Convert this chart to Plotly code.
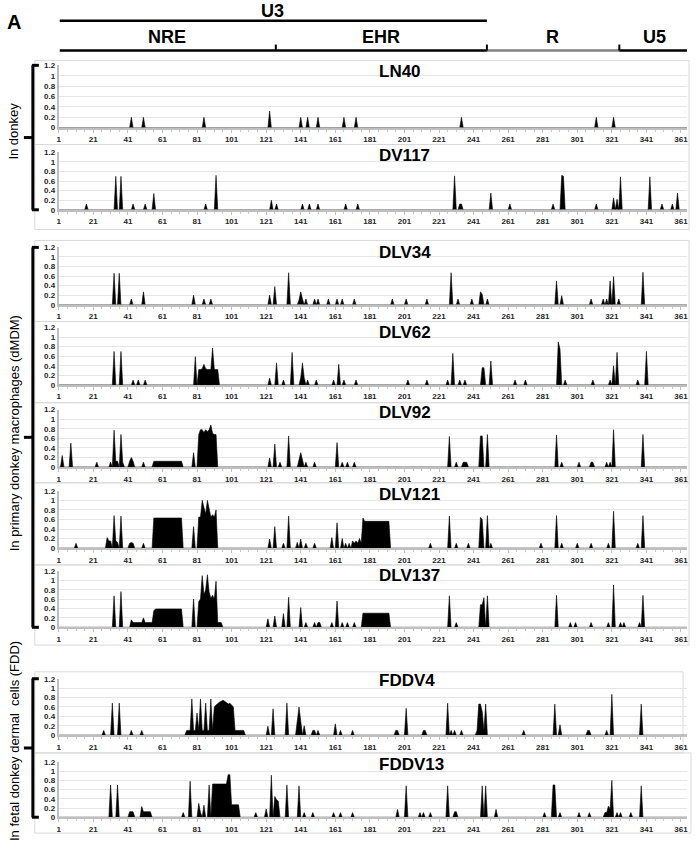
import numpy as np
import plotly.graph_objects as go

W, H = 696, 844
N_POS = 365  # nucleotide positions along the LTR

# ---- data: nonzero positions and their values ----
LN40_pos = [43, 50, 85, 123, 141, 145, 151, 166, 173, 234, 312, 322]
LN40_val = [.2, .2, .2, .32, .2, .2, .2, .2, .2, .2, .2, .2]

DV117_pos = [17, 34, 37, 44, 51, 56, 86, 92, 124, 127, 142, 146, 151, 167, 174,
             230, 233, 234, 251, 262, 287, 292, 293, 312, 322, 324, 326, 343,
             350, 356, 359]
DV117_val = [.12, .7, .7, .12, .12, .34, .12, .72, .2, .12, .12, .12, .12, .12, .12,
             .71, .12, .12, .35, .12, .12, .72, .7, .12, .25, .22, .69, .69,
             .12, .12, .35]

DLV34_pos = [33, 36, 43, 50, 79, 85, 89, 123, 126, 134, 140, 141, 142, 144, 149,
             151, 157, 162, 165, 172, 194, 202, 214, 228, 232, 240, 245, 246,
             249, 289, 292, 309, 316, 318, 320, 322, 325, 339]
DLV34_val = [.66, .66, .12, .27, .2, .12, .12, .2, .38, .67, .1, .27, .12, .12, .12,
             .12, .12, .12, .12, .12, .12, .12, .12, .67, .12, .12, .27, .22,
             .12, .5, .19, .12, .12, .12, .5, .59, .12, .68]

DLV62_pos = [33, 37, 44, 47, 51, 80, 82, 83, 84, 85, 86, 87, 88, 89, 90, 91, 92,
             93, 123, 127, 131, 136, 141, 142, 143, 145, 150, 160, 163, 166,
             173, 203, 214, 226, 229, 233, 236, 246, 247, 251, 265, 271, 290,
             291, 294, 310, 320, 322, 324, 336, 341]
DLV62_val = [.7, .7, .1, .1, .1, .59, .32, .32, .34, .43, .34, .32, .32, .32, .77,
             .32, .32, .32, .14, .46, .1, .68, .15, .46, .15, .1, .1, .1, .43,
             .1, .1, .1, .1, .1, .66, .1, .1, .36, .36, .5, .1, .1, .9, .75,
             .1, .1, .1, .4, .68, .1, .7]

DLV92_pos = [3, 8, 23, 31, 33, 34, 35, 37, 38, 42, 43, 44, 50,
             56, 57, 58, 59, 60, 61, 62, 63, 64, 65, 66, 67, 68, 69, 70, 71, 72,
             79, 82, 83, 84, 85, 86, 87, 88, 89, 90, 91, 92, 123, 126, 129,
             134, 140, 141, 142, 144, 149, 162, 165, 168, 172, 227, 231, 235,
             236, 237, 245, 246, 249, 289, 292, 302, 309, 310, 318, 320, 322,
             339]
DLV92_val = [.24, .5, .1, .1, .77, .12, .12, .68, .1, .12, .2, .12, .1,
             .12, .12, .12, .12, .12, .12, .12, .12, .12, .12, .12, .12, .12,
             .12, .12, .12, .12,
             .3, .68, .78, .78, .72, .78, .74, .78, .88, .7, .68, .68, .19, .48,
             .1, .65, .15, .3, .15, .1, .1, .51, .1, .1, .1, .64, .1, .1, .1,
             .1, .65, .65, .68, .67, .1, .1, .1, .1, .1, .1, .78, .68]

DLV121_pos = [11, 29, 30, 31, 33, 34, 35, 37, 42, 43, 44, 50,
              56, 57, 58, 59, 60, 61, 62, 63, 64, 65, 66, 67, 68, 69, 70, 71, 72,
              79, 82, 83, 84, 85, 86, 87, 88, 89, 90, 91, 92, 123, 126, 131,
              134, 139, 141, 144, 149, 159, 162, 165, 167, 169, 171, 172, 173,
              174, 175, 176, 177, 178, 179, 180, 181, 182, 183, 184, 185, 186,
              187, 188, 189, 190, 191, 192, 216, 227, 231, 238, 245, 246, 249,
              251, 280, 289, 292, 301, 309, 319, 322, 336, 339]
DLV121_val = [.1, .22, .15, .15, .68, .15, .12, .67, .1, .12, .1, .1,
              .63, .63, .63, .63, .63, .63, .63, .63, .63, .63, .63, .63, .63,
              .63, .63, .63, .63,
              .45, .65, .65, 1.0, .85, .72, 1.0, .8, .65, .7, .65, .8, .19, .45,
              .1, .67, .12, .19, .1, .1, .22, .53, .2, .1, .1, .15, .1, .15, .1,
              .2, .1, .63, .56, .56, .56, .56, .56, .56, .56, .56, .56, .56, .56,
              .56, .56, .56, .56, .1, .67, .1, .1, .64, .6, .68, .1, .1, .68,
              .1, .1, .1, .1, .77, .1, .68]

DLV137_pos = [33, 37, 43, 44, 45, 46, 47, 48, 49, 50, 51, 52, 53, 54, 55,
              56, 57, 58, 59, 60, 61, 62, 63, 64, 65, 66, 67, 68, 69, 70, 71, 72,
              79, 82, 83, 84, 85, 86, 87, 88, 89, 90, 91, 92, 93, 94, 95,
              122, 126, 131, 134, 141, 144, 149, 151, 152, 159, 162, 165, 168,
              172, 177, 178, 179, 180, 181, 182, 183, 184, 185, 186, 187, 188,
              189, 190, 191, 192, 227, 231, 245, 246, 247, 249, 289, 297, 300,
              309, 319, 322, 326, 328, 337, 339]
DLV137_val = [.67, .76, .16, .1, .1, .1, .1, .1, .1, .2, .1, .1, .1, .1, .1,
              .35, .39, .39, .39, .39, .39, .39, .39, .39, .39, .39, .39, .39,
              .39, .39, .39, .39,
              .6, .55, .6, 1.1, .7, .8, 1.12, .75, .62, .68, .6, .98, .1, .1, .1,
              .18, .24, .29, .64, .42, .1, .1, .1, .1, .1, .56, .1, .1,
              .1, .3, .3, .3, .3, .3, .3, .3, .3, .3, .3, .3, .3,
              .3, .3, .3, .3, .67, .1, .48, .48, .63, .67, .68, .1, .1,
              .1, .1, .9, .1, .1, .1, .68]

FDDV4_pos = [27, 32, 36, 43, 49, 75, 76, 77, 78, 79, 80, 81, 82, 83, 84, 85, 86,
             87, 88, 89, 90, 91, 92, 93, 94, 95, 96, 97, 98, 99, 100, 101, 102,
             103, 104, 105, 106, 107, 108, 122, 125, 133, 139, 140, 141, 143,
             148, 149, 151, 161, 164, 171, 196, 197, 202, 212, 213, 226, 228,
             230, 234, 243, 244, 245, 246, 247, 248, 270, 288, 291, 307, 308,
             318, 321, 338]
FDDV4_val = [.1, .68, .68, .1, .1, .1, .1, .1, .77, .1, .1, .47, .1, .77, .1, .1,
             .68, .1, .1, .77, .1, .6, .64, .68, .7, .72, .74, .72, .68, .66, .68,
             .63, .6, .1, .1, .1, .1, .1, .1, .19, .56, .68, .3, .6, .3, .2,
             .1, .1, .1, .24, .1, .1, .1, .1, .57, .1, .1, .68, .1,
             .1, .1, .1, .66, .66, .5, .1, .66, .1, .66, .22, .1, .1,
             .1, .87, .66]

FDDV13_pos = [31, 35, 42, 43, 44, 49, 50, 51, 52, 53, 54, 73, 77, 82, 83, 85, 88,
              90, 91, 92, 93, 94, 95, 96, 97, 98, 99, 100, 101, 102, 103, 104,
              105, 115, 121, 124, 126, 127, 128, 133, 140, 143, 148, 160, 164,
              171, 197, 202, 210, 212, 216, 226, 230, 231, 246, 248, 254, 282,
              287, 288, 291, 302, 308, 317, 318, 319, 320, 321, 324, 326, 332,
              338]
FDDV13_val = [.7, .7, .12, .12, .12, .23, .12, .12, .12, .12, .12, .1, .78, .3,
              .1, .26, .7, .72, .72, .72, .72, .72, .72, .72, .72, .72, .92, .92,
              .27, .27, .27, .27, .27, .1, .18, .91, .45, .38, .35, .7, .68, .1,
              .1, .1, .1, .1, .17, .68, .1, .1, .1, .68, .12, .12, .68, .68, .17,
              .1, .7, .7, .1, .1, .1, .1, .1, .24, .18, .8, .1, .1, .1, .68]

samples = ["LN40", "DV117", "DLV34", "DLV62", "DLV92", "DLV121", "DLV137",
           "FDDV4", "FDDV13"]
series = [(LN40_pos, LN40_val), (DV117_pos, DV117_val), (DLV34_pos, DLV34_val),
          (DLV62_pos, DLV62_val), (DLV92_pos, DLV92_val),
          (DLV121_pos, DLV121_val), (DLV137_pos, DLV137_val),
          (FDDV4_pos, FDDV4_val), (FDDV13_pos, FDDV13_val)]

x_ticks = list(range(1, 362, 20))
y_ticks = [0, 0.2, 0.4, 0.6, 0.8, 1, 1.2]

# pixel layout of each panel: (y of 1.2 line, y of 0 line, title y)
panel_px = [(62, 125, 68), (150, 208, 153), (246, 304, 251), (327, 385, 332),
            (410, 468, 413), (492, 550, 496), (573, 630, 578), (682, 739, 684),
            (766, 822, 769)]
# panel frames (top, bottom, right)
frames = [(57, 142, 690), (142, 228, 690), (239, 321, 690), (321, 403, 690),
          (403, 484, 690), (484, 567, 690), (567, 648, 690), (675, 757, 684),
          (757, 838, 692)]


def px(x):
    return x / W


def py(y):
    return 1 - y / H


fig = go.Figure()
layout = {}
xdom = [px(57), px(688)]
tick_font = dict(family="Liberation Sans, Arial", size=8, color="#262626",
                 weight="bold")

for i, (name, (pos, val)) in enumerate(zip(samples, series)):
    y = np.zeros(N_POS)
    for p, v in zip(pos, val):
        y[p - 1] = v
    x = np.arange(1, N_POS + 1)
    k = "" if i == 0 else str(i + 1)
    fig.add_trace(go.Scatter(
        x=x, y=y, mode="lines", fill="tozeroy",
        line=dict(color="black", width=0.6), fillcolor="black",
        xaxis="x" + k, yaxis="y" + k, showlegend=False, hoverinfo="skip"))
    top, bot, ty = panel_px[i]
    layout["xaxis" + k] = dict(
        domain=xdom, anchor="y" + k, range=[1, 364.5],
        tickvals=x_ticks, ticktext=[str(t) for t in x_ticks],
        showgrid=False, zeroline=False, showline=True,
        linecolor="#bfbfbf", linewidth=2, ticks="outside", ticklen=3,
        tickcolor="#bfbfbf",
        minor=dict(ticks="outside", ticklen=2, dtick=5, tick0=1,
                   tickcolor="#c8c8c8"),
        tickfont=tick_font)
    layout["yaxis" + k] = dict(
        domain=[py(bot), py(top)], anchor="x" + k, range=[0, 1.2],
        tickvals=y_ticks, ticktext=["0", "0.2", "0.4", "0.6", "0.8", "1", "1.2"],
        showgrid=True, gridcolor="#e6e6e6", gridwidth=1, zeroline=False,
        showline=True, linecolor="#bfbfbf", linewidth=2, ticks="",
        tickfont=tick_font)

shapes = []
annotations = []

# panel frames
for (t, b, r) in frames:
    shapes.append(dict(type="rect", xref="paper", yref="paper",
                       x0=px(33), x1=px(r), y0=py(b), y1=py(t),
                       line=dict(color="#d9d9d9", width=1), layer="below"))

# panel titles
for i, name in enumerate(samples):
    annotations.append(dict(text="<b>%s</b>" % name, x=px(377), y=py(panel_px[i][2]),
                            xref="paper", yref="paper", xanchor="left",
                            yanchor="middle", showarrow=False,
                            font=dict(family="Liberation Sans, Arial", size=17,
                                      color="black")))


def line(x0, y0, x1, y1, color="black", width=2.5):
    shapes.append(dict(type="line", xref="paper", yref="paper",
                       x0=px(x0), y0=py(y0), x1=px(x1), y1=py(y1),
                       line=dict(color=color, width=width)))


# group brackets
for (t, b) in [(62, 208), (246, 630), (682, 822)]:
    line(31, t, 31, b, width=3)
    line(30, t, 37, t, width=3)
    line(30, b, 37, b, width=3)
    m = (t + b) / 2
    line(22, m, 31, m, width=3)

group_labels = [("In donkey", 128), ("In primary donkey macrophages (dMDM)", 434),
                ("In fetal donkey dermal  cells (FDD)", 745)]
for text, yc in group_labels:
    annotations.append(dict(text=text.replace("  ", "&nbsp; "), x=px(12), y=py(yc),
                            xref="paper", yref="paper", textangle=-90,
                            xanchor="center", yanchor="middle",
                            showarrow=False,
                            font=dict(family="Liberation Sans, Arial", size=13,
                                      color="black")))

# header: LTR regions
line(58, 17, 487, 17)
line(58, 47, 487, 47)
line(487, 47, 620, 47, color="#808080")
line(620, 47, 688, 47)
for xt in [275, 487, 620]:
    line(xt, 41, xt, 47, width=2)

header = [("A", 12, 18, 20), ("U3", 272, 7, 18), ("NRE", 166, 33, 18),
          ("EHR", 381, 33, 18), ("R", 553, 33, 18), ("U5", 655, 33, 18)]
for text, xc, yc, size in header:
    annotations.append(dict(text="<b>%s</b>" % text, x=px(xc), y=py(yc),
                            xref="paper", yref="paper", showarrow=False,
                            xanchor="center", yanchor="middle",
                            font=dict(family="Liberation Sans, Arial", size=size,
                                      color="black")))

fig.update_layout(width=W, height=H, margin=dict(l=0, r=0, t=0, b=0),
                  paper_bgcolor="white", plot_bgcolor="white",
                  shapes=shapes, annotations=annotations, **layout)

# no page margin, so the figure sits at the window's top-left corner
fig.write_html("out.html", config={"displayModeBar": False},
               post_script="document.body.style.margin='0';")
